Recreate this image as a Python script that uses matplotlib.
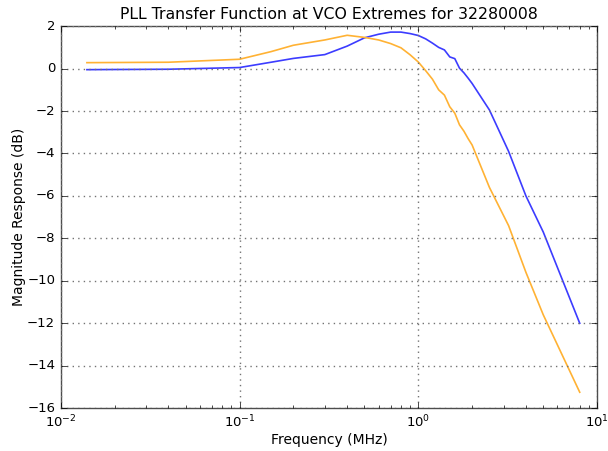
import matplotlib
matplotlib.use("Agg")
from matplotlib import pyplot as plt

plt.style.use('classic')

# frequency points (MHz)
freq = [0.014, 0.04, 0.1, 0.15, 0.2, 0.3, 0.4, 0.5, 0.6, 0.7, 0.8, 0.9, 1.0,
        1.1, 1.2, 1.3, 1.4, 1.5, 1.6, 1.7, 1.8, 1.9, 2.0, 2.5, 3.2, 4.0, 5.0, 8.0]

# magnitude response (dB) at the two VCO extremes
vco_low = [-0.05, -0.03, 0.05, 0.3, 0.48, 0.66, 1.06, 1.45, 1.62, 1.72, 1.72, 1.65, 1.56,
           1.4, 1.2, 1.0, 0.88, 0.55, 0.47, 0.02, -0.2, -0.45, -0.7, -1.95, -3.9, -6.0, -7.7, -12.0]
vco_high = [0.28, 0.3, 0.44, 0.8, 1.1, 1.35, 1.57, 1.47, 1.35, 1.18, 0.98, 0.65, 0.31,
            -0.1, -0.5, -1.0, -1.25, -1.8, -2.1, -2.65, -2.95, -3.3, -3.6, -5.6, -7.4, -9.6, -11.6, -15.25]

fig = plt.figure(figsize=(6.08, 4.51), dpi=100, facecolor='white')
ax = fig.add_axes([0.1, 0.095, 0.882, 0.847])

ax.semilogx(freq, vco_low, color='#3c3cff', linewidth=1.2)
ax.semilogx(freq, vco_high, color='#ffb234', linewidth=1.2)

ax.set_xlim(1e-2, 1e1)
ax.set_ylim(-16, 2)
ax.set_yticks(range(-16, 3, 2))

ax.grid(True, which='major', color='0.45', linestyle=':', linewidth=1)
ax.tick_params(labelsize=9.5)

ax.set_title("PLL Transfer Function at VCO Extremes for 32280008", fontsize=11.3, pad=5)
ax.set_xlabel("Frequency (MHz)", fontsize=10, labelpad=2)
ax.set_ylabel("Magnitude Response (dB)", fontsize=10, labelpad=1)

for s in ax.spines.values():
    s.set_color('0.3')

fig.savefig("out.png", dpi=100, facecolor='white')
